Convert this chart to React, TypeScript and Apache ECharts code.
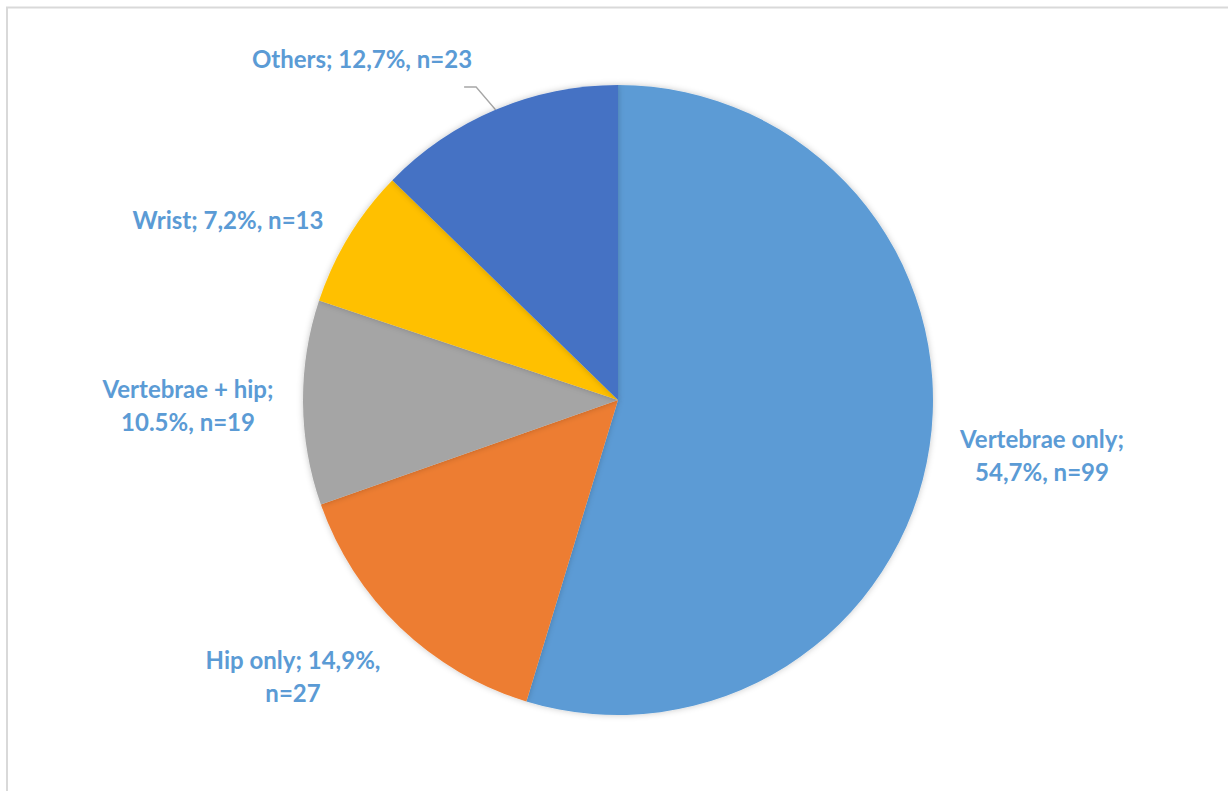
import React, { useEffect, useRef } from "react";
import * as echarts from "echarts";

const categories = ["Vertebrae only", "Hip only", "Vertebrae + hip", "Wrist", "Others"];
const counts = [99, 27, 19, 13, 23];
const percentLabels = ["54,7%", "14,9%", "10.5%", "7,2%", "12,7%"];
const labelTexts = [
  "Vertebrae only;\n54,7%, n=99",
  "Hip only; 14,9%,\nn=27",
  "Vertebrae + hip;\n10.5%, n=19",
  "Wrist; 7,2%, n=13",
  "Others; 12,7%, n=23",
];
const colors = ["#5B9BD5", "#ED7D31", "#A5A5A5", "#FFC000", "#4472C4"];
const labelCenters = [
  [1042, 455],
  [293, 676],
  [188, 405],
  [228, 219],
  [362, 58],
];

export default function App() {
  const ref = useRef<HTMLDivElement>(null);
  useEffect(() => {
    if (!ref.current) return;
    const chart = echarts.init(ref.current, null, { renderer: "svg" });
    chart.setOption({
      animation: false,
      backgroundColor: "#ffffff",
      graphic: [
        {
          type: "rect",
          shape: { x: 7, y: 7.5, width: 1260, height: 820 },
          style: { fill: "none", stroke: "#d9d9d9", lineWidth: 2 },
          silent: true,
        },
      ],
      series: [
        {
          type: "pie",
          center: [618, 400],
          radius: [0, 315],
          startAngle: 90,
          clockwise: true,
          itemStyle: {
            shadowBlur: 6,
            shadowColor: "rgba(0,0,0,0.22)",
          },
          label: {
            show: true,
            position: "outside",
            color: "#5B9BD5",
            fontFamily: "Lato, 'Open Sans', sans-serif",
            fontWeight: "bold",
            fontSize: 24,
            lineHeight: 33,
            align: "center",
            formatter: (p: any) => labelTexts[p.dataIndex],
          },
          labelLine: { show: false },
          labelLayout: (params: any) => {
            const c = labelCenters[params.dataIndex];
            const out: any = {
              x: c[0],
              y: c[1],
              align: "center",
              verticalAlign: "middle",
            };
            if (params.dataIndex === 4 && params.labelLinePoints) {
              const start = params.labelLinePoints[0];
              const rect = params.labelRect;
              const right = c[0] + rect.width / 2;
              const lineY = c[1] + 29;
              out.labelLinePoints = [
                [start[0], start[1]],
                [right + 4, lineY],
                [right - 8, lineY],
              ];
            }
            return out;
          },
          data: categories.map((name, i) => ({
            name,
            value: counts[i],
            itemStyle: { color: colors[i] },
            labelLine:
              i === 4
                ? { show: true, length: 15, length2: 12, lineStyle: { color: "#a6a6a6", width: 1.3 } }
                : { show: false },
          })),
        },
      ],
    });
    return () => chart.dispose();
  }, []);
  return (
    <div
      ref={ref}
      style={{ position: "absolute", left: 0, top: 0, width: 1228, height: 791 }}
    />
  );
}
